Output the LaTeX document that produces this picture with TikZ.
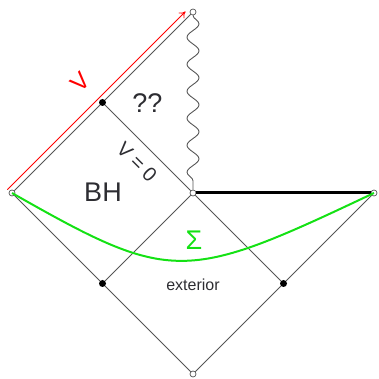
\documentclass[tikz,border=0pt]{standalone}
\usepackage{fontspec}
\setmainfont{Liberation Sans}
\usepackage{xcolor}
\usepackage{amsmath}
\usepackage{tikz}
\usetikzlibrary{shapes,arrows.meta,positioning,decorations.pathmorphing}

\definecolor{linegray}{RGB}{85,85,85}
\definecolor{textgray}{RGB}{45,45,50}
\definecolor{sigmagreen}{RGB}{20,225,20}

\begin{document}
\begin{tikzpicture}[x=1pt, y=1pt]
    \tikzstyle{endpt} = [circle, draw=linegray, fill=white, inner sep=0pt,
        minimum size=6pt, line width=0.7pt]
    \tikzstyle{midpt} = [circle, fill=black, inner sep=0pt, minimum size=7pt]
    \tikzstyle{edge} = [draw=linegray, line width=0.9pt]
    \tikzstyle{label} = [text=textgray, inner sep=0pt]
    \useasboundingbox (0,0) rectangle (378,379);

    % corners of the diagram
    \node (top) [endpt] at (193,367) {};
    \node (left) [endpt] at (12,186) {};
    \node (centre) [endpt] at (193,186) {};
    \node (right) [endpt] at (374,186) {};
    \node (bottom) [endpt] at (193,5) {};
    \node (upmid) [midpt] at (102.5,276.5) {};
    \node (lowleft) [midpt] at (102.5,95.5) {};
    \node (lowright) [midpt] at (283.5,95.5) {};

    % null lines
    \draw [edge] (left) -- (upmid) -- (top);
    \draw [edge] (upmid) -- (centre);
    \draw [edge] (left) -- (lowleft) -- (bottom) -- (lowright) -- (right);
    \draw [edge] (lowleft) -- (centre) -- (lowright);
    \draw [line width=3pt, black] (centre) -- (right);
    \draw [edge, decorate, decoration={snake, segment length=27pt, amplitude=6pt}]
        (top) -- (centre);

    % Cauchy slice
    \draw [sigmagreen, line width=2pt] (left.center) .. controls (172,95) and (184,96) .. (right.center);

    % the V coordinate
    \draw [red, line width=0.8pt, -{To[length=6pt, width=8pt]}, shorten >=5pt, shorten <=-1pt]
        ([shift={(-4,4)}]left.center) -- ([shift={(-4,4)}]top.center);

    \node (vname) [red, rotate=45, inner sep=0pt, font=\fontsize{24}{24}\selectfont] at (80,297) {V};
    \node (unknown) [label, font=\fontsize{27}{27}\selectfont] at (147.5,276) {??};
    \node (horizon) [label, rotate=-45, font=\fontsize{20}{20}\selectfont] at (137,217) {V = 0};
    \node (bh) [label, font=\fontsize{27}{27}\selectfont] at (103,187) {BH};
    \node (sigma) [sigmagreen, inner sep=0pt, font=\fontsize{27}{27}\selectfont] at (194,139) {Σ};
    \node (ext) [label, font=\fontsize{16}{16}\selectfont] at (193,94) {exterior};
\end{tikzpicture}
\end{document}
